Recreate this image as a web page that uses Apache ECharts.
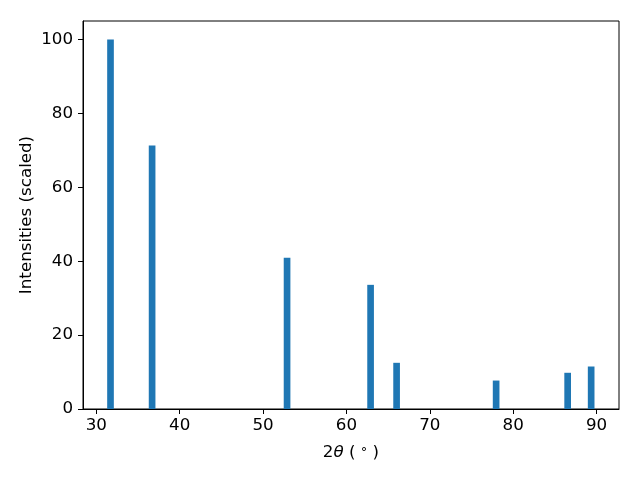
<!DOCTYPE html>
<html>
<head>
<meta charset="utf-8">
<script src="https://cdn.jsdelivr.net/npm/echarts@6/dist/echarts.min.js"></script>
<style>html,body{margin:0;padding:0;background:#fff}#c{width:640px;height:480px}</style>
</head>
<body>
<div id="c"></div>
<script>
var peakPositions = [31.70, 36.69, 52.88, 62.90, 66.02, 77.96, 86.54, 89.36];
var peakIntensities = [100, 71.3, 40.9, 33.6, 12.5, 7.7, 9.8, 11.5];
var xTicks = [30, 40, 50, 60, 70, 80, 90];
var yTicks = [0, 20, 40, 60, 80, 100];
var barHalfWidth = 0.4;

var font = 'DejaVu Sans';
var chart = echarts.init(document.getElementById('c'), null, {renderer: 'canvas'});
var data = peakPositions.map(function (p, i) { return [p, peakIntensities[i]]; });

chart.setOption({
  animation: false,
  backgroundColor: '#fff',
  grid: {left: 83, right: 21, top: 21, bottom: 71, show: true, borderColor: '#000', borderWidth: 1, backgroundColor: 'transparent'},
  xAxis: {
    type: 'value', min: 28.4, max: 92.7,
    name: '2{i|θ} ( {s|°} )', nameLocation: 'middle', nameGap: 35, nameMoveOverlap: false,
    nameTextStyle: {fontFamily: font, fontSize: 16.7, color: '#000', rich: {
      i: {fontFamily: font, fontStyle: 'italic', fontSize: 16.7, color: '#000'},
      s: {fontFamily: font, fontSize: 13, color: '#000'}
    }},
    splitLine: {show: false},
    axisLine: {show: true, onZero: false, lineStyle: {color: '#000', width: 1}},
    axisTick: {show: true, length: 5, lineStyle: {color: '#000'}, customValues: xTicks},
    axisLabel: {fontFamily: font, fontSize: 16.7, color: '#000', margin: 8, customValues: xTicks}
  },
  yAxis: {
    type: 'value', min: 0, max: 105,
    name: 'Intensities (scaled)', nameLocation: 'middle', nameGap: 48, nameMoveOverlap: false,
    nameTextStyle: {fontFamily: font, fontSize: 16.7, color: '#000'},
    splitLine: {show: false},
    axisLine: {show: true, lineStyle: {color: '#000', width: 1}},
    axisTick: {show: true, length: 5, lineStyle: {color: '#000'}, customValues: yTicks},
    axisLabel: {fontFamily: font, fontSize: 16.7, color: '#000', margin: 10, customValues: yTicks}
  },
  series: [{
    type: 'custom',
    data: data,
    renderItem: function (params, api) {
      var x = api.value(0), h = api.value(1);
      var p0 = api.coord([x - barHalfWidth, h]);
      var p1 = api.coord([x + barHalfWidth, 0]);
      return {type: 'rect', shape: {x: p0[0], y: p0[1], width: p1[0] - p0[0], height: p1[1] - p0[1]}, style: {fill: '#1f77b4'}};
    }
  }]
});
</script>
</body>
</html>
